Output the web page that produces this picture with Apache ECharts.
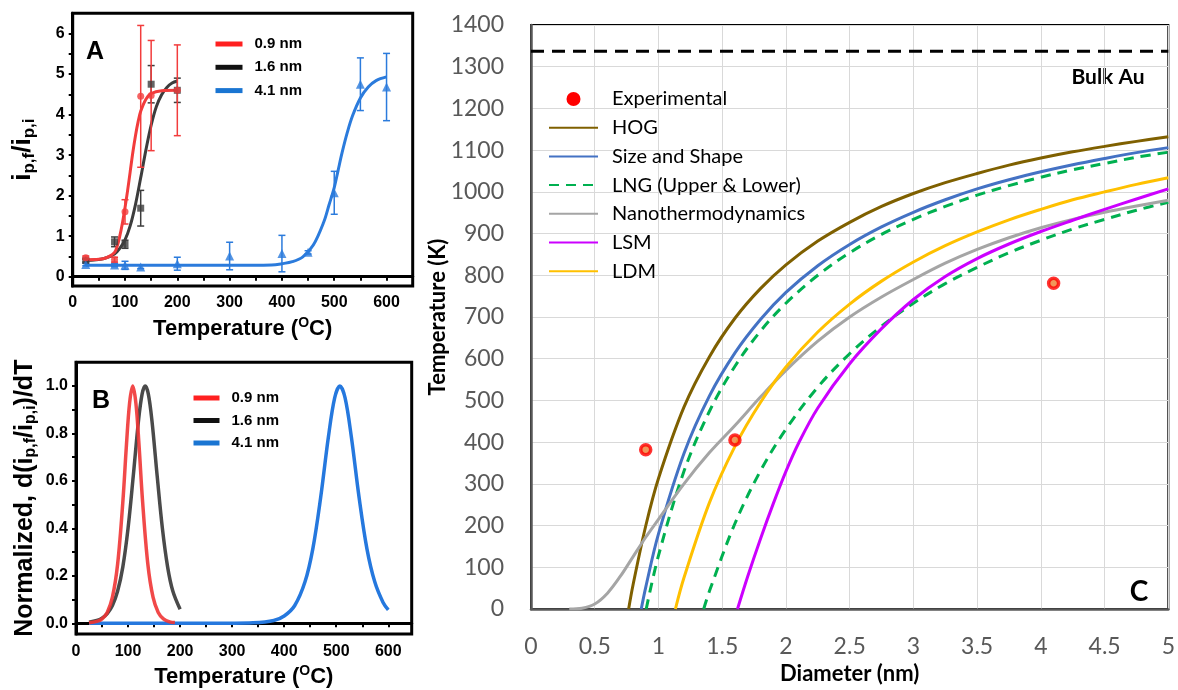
<!DOCTYPE html>
<html><head><meta charset="utf-8">
<script src="https://cdn.jsdelivr.net/npm/echarts@6/dist/echarts.min.js"></script>
<style>html,body{margin:0;padding:0;background:#fff}#c{width:1178px;height:690px}</style>
</head><body><div id="c"></div>
<script>
// ---------- Panel A: i_pf/i_pi vs temperature ----------
const aFitRedT = [25,50,60,70,80,85,90,95,100,105,110,115,120,125,130,140,150,170,200];
const aFitRed  = [0.42,0.43,0.45,0.5,0.6,0.75,1.0,1.32,1.7,2.13,2.6,3.07,3.48,3.82,4.08,4.38,4.52,4.59,4.6];
const aFitBlackT = [25,60,80,90,100,110,120,130,140,150,160,170,180,190,200];
const aFitBlack  = [0.4,0.45,0.56,0.7,0.91,1.26,1.78,2.44,3.13,3.74,4.2,4.49,4.67,4.78,4.83];
const aFitBlueT = [25,100,200,300,380,400,420,440,460,480,490,500,507,515,525,535,550,565,580,600];
const aFitBlue  = [0.28,0.28,0.28,0.28,0.29,0.32,0.37,0.49,0.78,1.35,1.77,2.2,2.6,3.06,3.56,3.97,4.41,4.68,4.84,4.93];

const aPtRedT = [25,80,100,130,150,200];
const aPtRed  = [0.47,0.42,1.6,4.45,4.47,4.6];
const aErrRed = [0.04,0.06,0.3,1.75,1.36,1.12];
const aPtBlackT = [25,80,100,130,150,200];
const aPtBlack  = [0.4,0.86,0.8,1.69,4.75,4.6];
const aErrBlack = [0.04,0.12,0.1,0.44,0.46,0.3];
const aPtBlueT = [25,80,100,130,200,300,400,450,500,550,600];
const aPtBlue  = [0.3,0.29,0.28,0.24,0.32,0.51,0.57,0.6,2.07,4.75,4.68];
const aErrBlue = [0.03,0.04,0.1,0.04,0.16,0.34,0.45,0.04,0.53,0.65,0.83];

const aXLabels = [0,100,200,300,400,500,600];
const aXTicks = [0,50,100,150,200,250,300,350,400,450,500,550,600];
const aYLabels = [0,1,2,3,4,5,6];
const aYTicks = [0,0.5,1,1.5,2,2.5,3,3.5,4,4.5,5,5.5,6];

// ---------- Panel B: normalized derivative ----------
const bRedT = [25,40,50,60,70,80,90,97,103,109,115,121,128,138,148,158,168,180,190];
const bRed  = [0.002,0.008,0.019,0.046,0.11,0.25,0.512,0.754,0.929,1,0.929,0.754,0.512,0.25,0.11,0.046,0.019,0.006,0.003];
const bBlackT = [25,40,50,60,70,80,90,100,110,120,127,133,139,146,156,166,176,186,200];
const bBlack  = [0.005,0.012,0.022,0.041,0.075,0.136,0.238,0.40,0.62,0.852,0.966,1,0.966,0.852,0.62,0.40,0.238,0.136,0.059];
const bBlueT = [25,200,300,340,380,400,420,440,455,470,485,497,507,517,529,544,559,574,590,600];
const bBlue  = [0,0,0.0003,0.002,0.012,0.031,0.074,0.175,0.314,0.529,0.786,0.95,1,0.95,0.786,0.529,0.314,0.175,0.088,0.057];

const bXLabels = [0,100,200,300,400,500,600];
const bXTicks = [0,50,100,150,200,250,300,350,400,450,500,550,600];
const bYLabels = [0,0.2,0.4,0.6,0.8,1.0];
const bYTicks = [0,0.1,0.2,0.3,0.4,0.5,0.6,0.7,0.8,0.9,1.0];

// ---------- Panel C: melting temperature vs diameter ----------
const bulkAu = 1337;
const expD = [0.9,1.6,4.1];
const expT = [382,405,781];
const hogD = [0.766,0.8,0.9,1.0,1.2,1.4,1.6,1.8,2.0,2.25,2.5,2.75,3.0,3.25,3.5,3.75,4.0,4.25,4.5,4.75,5.0];
const hogT = [0,57,199,313,484,605,697,768,825,882,927,965,996,1022,1044,1064,1081,1096,1109,1121,1132];
const ssD = [0.865,0.9,1.0,1.2,1.4,1.6,1.8,2.0,2.25,2.5,2.75,3.0,3.25,3.5,3.75,4.0,4.25,4.5,4.75,5.0];
const ssT = [0,52,180,373,511,614,694,759,823,874,916,951,981,1007,1029,1048,1065,1080,1094,1106];
const lngUD = [0.904,1.0,1.2,1.4,1.6,1.8,2.0,2.25,2.5,2.75,3.0,3.25,3.5,3.75,4.0,4.25,4.5,4.75,5.0];
const lngUT = [0,128,330,474,582,666,733,800,854,898,934,965,992,1015,1035,1053,1068,1083,1095];
const lngLD = [1.355,1.4,1.6,1.8,2.0,2.25,2.5,2.75,3.0,3.25,3.5,3.75,4.0,4.25,4.5,4.75,5.0];
const lngLT = [0,43,205,331,431,532,612,678,733,780,819,854,884,911,934,956,975];
const nanoD = [0.3,0.4,0.5,0.6,0.7,0.8,0.9,1.0,1.2,1.4,1.6,1.8,2.0,2.25,2.5,2.75,3.0,3.25,3.5,3.75,4.0,4.25,4.5,4.75,5.0];
const nanoT = [0,2,12,38,78,125,172,215,300,375,440,508,572,642,700,748,790,829,862,890,914,934,951,966,980];
const lsmD = [1.62,1.7,1.8,1.9,2.0,2.1,2.25,2.5,2.75,3.0,3.25,3.5,3.75,4.0,4.25,4.5,4.75,5.0];
const lsmT = [0,78,168,252,330,398,482,588,672,742,797,840,875,905,932,958,983,1007];
const ldmD = [1.133,1.2,1.4,1.6,1.8,2.0,2.25,2.5,2.75,3.0,3.25,3.5,3.75,4.0,4.25,4.5,4.75,5.0];
const ldmT = [0,75,255,390,495,580,664,731,786,832,871,904,933,958,981,1000,1018,1034];

const zip = (xs, ys) => xs.map((x, i) => [x, ys[i]]);
const errData = (xs, ys, es) => xs.map((x, i) => [x, ys[i] - es[i], ys[i] + es[i]]);

const fA = 'Liberation Sans';
const fC = 'Lato';

function errRender(color) {
  return function (params, api) {
    const x = api.value(0), lo = api.value(1), hi = api.value(2);
    const p1 = api.coord([x, hi]), p2 = api.coord([x, lo]);
    const w = 3.5;
    const style = { stroke: color, lineWidth: 1.5 };
    return { type: 'group', children: [
      { type: 'line', shape: { x1: p1[0], y1: p1[1], x2: p2[0], y2: p2[1] }, style },
      { type: 'line', shape: { x1: p1[0] - w, y1: p1[1], x2: p1[0] + w, y2: p1[1] }, style },
      { type: 'line', shape: { x1: p2[0] - w, y1: p2[1], x2: p2[0] + w, y2: p2[1] }, style }
    ]};
  };
}

const boldAB = { fontFamily: fA, fontWeight: 'bold', color: '#000' };
const tempName = '{m|Temperature (}{s|O}{m|C)}';
const tempRich = {
  m: { fontFamily: fA, fontWeight: 'bold', fontSize: 22, lineHeight: 26, color: '#000' },
  s: { fontFamily: fA, fontWeight: 'bold', fontSize: 14, lineHeight: 14, verticalAlign: 'top', color: '#000' }
};
const noSym = { color: 'rgba(0,0,0,0)', borderColor: 'rgba(0,0,0,0)', borderWidth: 0 };

const RED = '#f23c3c', BLK = '#3d3d3d', BLU = '#2b7bdc';
const SM = 0.35;

const chart = echarts.init(document.getElementById('c'), null, { renderer: 'canvas' });
chart.setOption({
  animation: false,
  backgroundColor: '#fff',
  grid: [
    { left: 72.7, top: 13.3, width: 340, height: 272.7, show: true, borderColor: '#000', borderWidth: 3, containLabel: false },
    { left: 76, top: 362.3, width: 335.7, height: 271.7, show: true, borderColor: '#000', borderWidth: 3, containLabel: false },
    { left: 531, top: 25, width: 640, height: 588, show: true, borderColor: '#000', borderWidth: 2, containLabel: false }
  ],
  xAxis: [
    { gridIndex: 0, type: 'value', min: 0, max: 650,
      axisLine: { lineStyle: { color: '#000', width: 3 } },
      axisTick: { show: true, inside: false, length: 4, customValues: aXTicks, lineStyle: { color: '#000', width: 2 } },
      axisLabel: { customValues: aXLabels, margin: 9, fontSize: 16, ...boldAB },
      splitLine: { show: false }, nameMoveOverlap: false,
      name: tempName, nameLocation: 'middle', nameGap: 30, nameTextStyle: { rich: tempRich } },
    { gridIndex: 1, type: 'value', min: 0, max: 645,
      axisLine: { lineStyle: { color: '#000', width: 3 } },
      axisTick: { show: true, inside: false, length: 4, customValues: bXTicks, lineStyle: { color: '#000', width: 2 } },
      axisLabel: { customValues: bXLabels, margin: 10, fontSize: 16, ...boldAB },
      splitLine: { show: false }, nameMoveOverlap: false,
      name: tempName, nameLocation: 'middle', nameGap: 30, nameTextStyle: { rich: tempRich } },
    { gridIndex: 2, type: 'value', min: 0, max: 5, interval: 0.5,
      axisLine: { lineStyle: { color: '#595959', width: 2.5 } },
      axisTick: { show: false },
      axisLabel: { margin: 26, fontSize: 23, fontFamily: fC, color: '#595959', formatter: v => String(v) },
      splitLine: { show: true, lineStyle: { color: '#d9d9d9', width: 1 } }, nameMoveOverlap: false,
      name: 'Diameter (nm)', nameLocation: 'middle', nameGap: 54,
      nameTextStyle: { fontFamily: fC, fontWeight: 'bold', fontSize: 22, color: '#000' } }
  ],
  yAxis: [
    { gridIndex: 0, type: 'value', min: -0.23, max: 6.5,
      axisLine: { lineStyle: { color: '#000', width: 3 } },
      axisTick: { show: true, inside: false, length: 4, customValues: aYTicks, lineStyle: { color: '#000', width: 2 } },
      axisLabel: { customValues: aYLabels, margin: 8, fontSize: 16, ...boldAB },
      splitLine: { show: false }, nameMoveOverlap: false,
      name: '{m|i}{s|p,f}{m|/i}{s|p,i}', nameLocation: 'middle', nameGap: 35,
      nameTextStyle: { rich: {
        m: { fontFamily: fA, fontWeight: 'bold', fontSize: 26, lineHeight: 30, color: '#000' },
        s: { fontFamily: fA, fontWeight: 'bold', fontSize: 17, lineHeight: 17, verticalAlign: 'bottom', color: '#000' } } } },
    { gridIndex: 1, type: 'value', min: -0.045, max: 1.1,
      axisLine: { lineStyle: { color: '#000', width: 3 } },
      axisTick: { show: true, inside: false, length: 4, customValues: bYTicks, lineStyle: { color: '#000', width: 2 } },
      axisLabel: { customValues: bYLabels, margin: 8, fontSize: 16, ...boldAB, formatter: v => v.toFixed(1) },
      splitLine: { show: false }, nameMoveOverlap: false,
      name: '{m|Normalized, d(i}{s|p,f}{m|/i}{s|p,i}{m|)/dT}', nameLocation: 'middle', nameGap: 37,
      nameTextStyle: { rich: {
        m: { fontFamily: fA, fontWeight: 'bold', fontSize: 25, lineHeight: 28, color: '#000' },
        s: { fontFamily: fA, fontWeight: 'bold', fontSize: 16, lineHeight: 16, verticalAlign: 'bottom', color: '#000' } } } },
    { gridIndex: 2, type: 'value', min: 0, max: 1400, interval: 100,
      axisLine: { show: true, lineStyle: { color: '#595959', width: 2.5 } },
      axisTick: { show: false },
      axisLabel: { margin: 27, fontSize: 23, fontFamily: fC, color: '#595959', formatter: v => String(v) },
      splitLine: { show: true, lineStyle: { color: '#d9d9d9', width: 1 } }, nameMoveOverlap: false,
      name: 'Temperature (K)', nameLocation: 'middle', nameGap: 82,
      nameTextStyle: { fontFamily: fC, fontWeight: 'bold', fontSize: 22, color: '#000' } }
  ],
  legend: [
    { orient: 'vertical', left: 213, top: 36, padding: 0, itemWidth: 27, itemHeight: 10, itemGap: 7.3,
      selectedMode: false, lineStyle: { width: 5 }, itemStyle: noSym,
      data: [{ name: '0.9 nm', lineStyle: { color: '#ff2020' } }, { name: '1.6 nm', lineStyle: { color: '#111' } }, { name: '4.1 nm', lineStyle: { color: '#1a75d2' } }],
      textStyle: { fontFamily: fA, fontWeight: 'bold', fontSize: 15, color: '#000', lineHeight: 16, padding: [0, 0, 0, 7] } },
    { orient: 'vertical', left: 191, top: 390, padding: 0, itemWidth: 26, itemHeight: 10, itemGap: 6.5,
      selectedMode: false, lineStyle: { width: 5 }, itemStyle: noSym,
      data: [{ name: '0.9 nm', lineStyle: { color: '#ff2020' } }, { name: '1.6 nm', lineStyle: { color: '#111' } }, { name: '4.1 nm', lineStyle: { color: '#1a75d2' } }],
      textStyle: { fontFamily: fA, fontWeight: 'bold', fontSize: 15, color: '#000', lineHeight: 16, padding: [0, 0, 0, 7] } },
    { orient: 'vertical', left: 548, top: 88, padding: 0, itemWidth: 49, itemHeight: 14, itemGap: 6.7,
      selectedMode: false, itemStyle: noSym,
      data: [{ name: 'Experimental', icon: 'circle', itemStyle: { color: '#ff0000', borderWidth: 0, opacity: 1 } },
        'HOG', 'Size and Shape', 'LNG (Upper & Lower)', 'Nanothermodynamics', 'LSM', 'LDM'],
      textStyle: { fontFamily: fC, fontSize: 20, color: '#000', lineHeight: 22, padding: [0, 0, 0, 9] } }
  ],
  graphic: [
    { type: 'text', x: 95, y: 52, style: { text: 'A', font: 'bold 25px "Liberation Sans"', fill: '#000', align: 'center', verticalAlign: 'middle', textAlign: 'center', textVerticalAlign: 'middle' } },
    { type: 'text', x: 101, y: 401, style: { text: 'B', font: 'bold 25px "Liberation Sans"', fill: '#000', align: 'center', verticalAlign: 'middle', textAlign: 'center', textVerticalAlign: 'middle' } },
    { type: 'text', x: 1139, y: 592, style: { text: 'C', font: 'bold 28px Lato', fill: '#000', align: 'center', verticalAlign: 'middle', textAlign: 'center', textVerticalAlign: 'middle' } },
    { type: 'text', x: 1108, y: 77, style: { text: 'Bulk Au', font: 'bold 21px Lato', fill: '#000', align: 'center', verticalAlign: 'middle', textAlign: 'center', textVerticalAlign: 'middle' } }
  ],
  series: [
    // Panel A fits (first so legends pick them)
    { name: '0.9 nm', type: 'line', xAxisIndex: 0, yAxisIndex: 0, data: zip(aFitRedT, aFitRed), smooth: SM, symbol: 'none', lineStyle: { color: RED, width: 3 }, itemStyle: { color: RED }, z: 3 },
    { name: '1.6 nm', type: 'line', xAxisIndex: 0, yAxisIndex: 0, data: zip(aFitBlackT, aFitBlack), smooth: SM, symbol: 'none', lineStyle: { color: BLK, width: 3 }, itemStyle: { color: BLK }, z: 2 },
    { name: '4.1 nm', type: 'line', xAxisIndex: 0, yAxisIndex: 0, data: zip(aFitBlueT, aFitBlue), smooth: SM, symbol: 'none', lineStyle: { color: BLU, width: 3 }, itemStyle: { color: BLU }, z: 2 },
    // Panel A error bars
    { name: 'errRed', type: 'custom', xAxisIndex: 0, yAxisIndex: 0, renderItem: errRender(RED), data: errData(aPtRedT, aPtRed, aErrRed), encode: { x: 0, y: [1, 2] }, z: 4 },
    { name: 'errBlack', type: 'custom', xAxisIndex: 0, yAxisIndex: 0, renderItem: errRender(BLK), data: errData(aPtBlackT, aPtBlack, aErrBlack), encode: { x: 0, y: [1, 2] }, z: 3 },
    { name: 'errBlue', type: 'custom', xAxisIndex: 0, yAxisIndex: 0, renderItem: errRender(BLU), data: errData(aPtBlueT, aPtBlue, aErrBlue), encode: { x: 0, y: [1, 2] }, z: 3 },
    // Panel A points
    { name: 'ptRed', type: 'scatter', xAxisIndex: 0, yAxisIndex: 0, data: zip(aPtRedT, aPtRed), symbol: 'circle', symbolSize: 7, itemStyle: { color: RED }, z: 5 },
    { name: 'ptBlack', type: 'scatter', xAxisIndex: 0, yAxisIndex: 0, data: zip(aPtBlackT, aPtBlack), symbol: 'rect', symbolSize: 7, itemStyle: { color: BLK }, z: 4 },
    { name: 'ptBlue', type: 'scatter', xAxisIndex: 0, yAxisIndex: 0, data: zip(aPtBlueT, aPtBlue), symbol: 'triangle', symbolSize: 9, itemStyle: { color: BLU }, z: 4 },
    // Panel B
    { name: '0.9 nm', type: 'line', xAxisIndex: 1, yAxisIndex: 1, data: zip(bRedT, bRed), smooth: SM, symbol: 'none', lineStyle: { color: '#ef3535', width: 3.5, opacity: 0.9 }, z: 4 },
    { name: '1.6 nm', type: 'line', xAxisIndex: 1, yAxisIndex: 1, data: zip(bBlackT, bBlack), smooth: SM, symbol: 'none', lineStyle: { color: '#4a4a4a', width: 3.5 }, z: 3 },
    { name: '4.1 nm', type: 'line', xAxisIndex: 1, yAxisIndex: 1, data: zip(bBlueT, bBlue), smooth: SM, symbol: 'none', lineStyle: { color: '#2578de', width: 3.5 }, z: 2 },
    // Panel C
    { name: 'Bulk Au', type: 'line', xAxisIndex: 2, yAxisIndex: 2, data: [[0, bulkAu], [5, bulkAu]], symbol: 'none', lineStyle: { color: '#000', width: 3, type: [13, 8] }, z: 2 },
    { name: 'HOG', type: 'line', xAxisIndex: 2, yAxisIndex: 2, data: zip(hogD, hogT), smooth: SM, symbol: 'none', lineStyle: { color: '#7f6000', width: 3 }, itemStyle: { color: '#7f6000' }, z: 3 },
    { name: 'Size and Shape', type: 'line', xAxisIndex: 2, yAxisIndex: 2, data: zip(ssD, ssT), smooth: SM, symbol: 'none', lineStyle: { color: '#4472c4', width: 3 }, itemStyle: { color: '#4472c4' }, z: 3 },
    { name: 'LNG (Upper & Lower)', type: 'line', xAxisIndex: 2, yAxisIndex: 2, data: zip(lngUD, lngUT), smooth: SM, symbol: 'none', lineStyle: { color: '#00b050', width: 3, type: [10, 7] }, itemStyle: { color: '#00b050' }, z: 3 },
    { name: 'LNG (Upper & Lower)', type: 'line', xAxisIndex: 2, yAxisIndex: 2, data: zip(lngLD, lngLT), smooth: SM, symbol: 'none', lineStyle: { color: '#00b050', width: 3, type: [10, 7] }, itemStyle: { color: '#00b050' }, z: 3 },
    { name: 'Nanothermodynamics', type: 'line', xAxisIndex: 2, yAxisIndex: 2, data: zip(nanoD, nanoT), smooth: SM, symbol: 'none', lineStyle: { color: '#a5a5a5', width: 3 }, itemStyle: { color: '#a5a5a5' }, z: 3 },
    { name: 'LSM', type: 'line', xAxisIndex: 2, yAxisIndex: 2, data: zip(lsmD, lsmT), smooth: SM, symbol: 'none', lineStyle: { color: '#cc00ff', width: 3 }, itemStyle: { color: '#cc00ff' }, z: 3 },
    { name: 'LDM', type: 'line', xAxisIndex: 2, yAxisIndex: 2, data: zip(ldmD, ldmT), smooth: SM, symbol: 'none', lineStyle: { color: '#ffc000', width: 3 }, itemStyle: { color: '#ffc000' }, z: 3 },
    { name: 'Experimental', type: 'scatter', xAxisIndex: 2, yAxisIndex: 2, data: zip(expD, expT), symbol: 'circle', symbolSize: 10, itemStyle: { color: '#ed7d31', borderColor: '#ff0000', borderWidth: 3.5 }, z: 5 }
  ]
});
</script>
</body></html>
